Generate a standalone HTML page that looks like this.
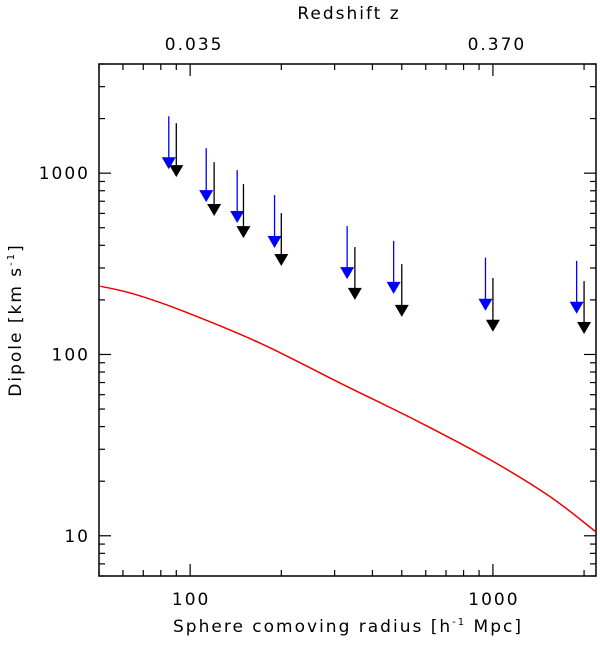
<!DOCTYPE html>
<html><head><meta charset="utf-8"><style>
body{margin:0;background:#fff}
svg text{font-family:"DejaVu Sans","Liberation Sans",sans-serif;font-size:17px;fill:#000;letter-spacing:2px}
</style></head><body>
<svg id="chart" width="600" height="640" xmlns="http://www.w3.org/2000/svg"></svg>
<script>
const blueX=[85,113,143,190,330,470,945,1890];
const blueY=[1135,747,573,417,281,233,188,181];
const blueTop=[2060,1373,1039,757,511,423,342,328];
const blackX=[90,120,150,200,350,500,1000,2000];
const blackY=[1026,626,473,332,216,174,144,140];
const blackTop=[1886,1150,870,602,391,315,264,254];
const redX=[50.5,64.9,92.7,170,312,574,978,1540,2190];
const redY=[238,216,176,115.6,69.7,42.2,26.3,16.5,10.5];
const xTickLabels=["100","1000"];
const yTickLabels=["10","100","1000"];
const zLabels=["0.035","0.370"];

const L=99,R=596,T=64,B=576;
const X0=Math.log10(50),X1=Math.log10(2190),Y0=Math.log10(6),Y1=Math.log10(4000);
const sx=v=>L+(Math.log10(v)-X0)/(X1-X0)*(R-L);
const sy=v=>B-(Math.log10(v)-Y0)/(Y1-Y0)*(B-T);
const svg=document.getElementById('chart');
const NS='http://www.w3.org/2000/svg';
function mk(tag,attrs,parent){const e=document.createElementNS(NS,tag);for(const k in attrs)e.setAttribute(k,attrs[k]);(parent||svg).appendChild(e);return e;}

const frame=mk('rect',{x:L,y:T,width:R-L,height:B-T,fill:'none',stroke:'#000','stroke-width':1.5});



const gx=mk('g',{stroke:'#000','stroke-width':1.2});


for(let d=10;d<=1000;d*=10)for(let m=1;m<10;m++){const v=d*m;if(v<50||v>2190)continue;const x=sx(v);const len=m===1?12:6;
 mk('line',{x1:x,y1:B,x2:x,y2:B-len},gx);mk('line',{x1:x,y1:T,x2:x,y2:T+len},gx);}
xTickLabels.forEach(s=>{const t=mk('text',{x:sx(+s)+1,y:605,'text-anchor':'middle'});t.textContent=s;
 
 });
const gy=mk('g',{stroke:'#000','stroke-width':1.2});


for(let d=1;d<=1000;d*=10)for(let m=1;m<10;m++){const v=d*m;if(v<6||v>4000)continue;const y=sy(v);const len=m===1?12:6;
 mk('line',{x1:L,y1:y,x2:L+len,y2:y},gy);mk('line',{x1:R,y1:y,x2:R-len,y2:y},gy);}
yTickLabels.forEach(s=>{const t=mk('text',{x:90,y:sy(+s)+6,'text-anchor':'end'});t.textContent=s;
 
 });
zLabels.forEach((s,i)=>{const t=mk('text',{x:sx(+xTickLabels[i])+4,y:50,'text-anchor':'middle'});t.textContent=s;
 
 });

let t=mk('text',{x:349,y:19,'text-anchor':'middle'});t.textContent='Redshift z';


t=mk('text',{x:348,y:632,'text-anchor':'middle'});t.innerHTML='Sphere comoving radius [h<tspan dy="-7" font-size="10">-1</tspan><tspan dy="7"> Mpc]</tspan>';


t=mk('text',{x:0,y:0,'text-anchor':'middle',transform:'translate(21,320) rotate(-90)'});t.innerHTML='Dipole [km s<tspan dy="-7" font-size="10">-1</tspan><tspan dy="7">]</tspan>';



const pts=redX.map((v,i)=>[sx(v),sy(redY[i])]);
let d='M'+pts[0][0]+','+pts[0][1];
for(let i=0;i<pts.length-1;i++){const p0=pts[i-1]||pts[i],p1=pts[i],p2=pts[i+1],p3=pts[i+2]||p2;
 d+=` C${p1[0]+(p2[0]-p0[0])/6},${p1[1]+(p2[1]-p0[1])/6} ${p2[0]-(p3[0]-p1[0])/6},${p2[1]-(p3[1]-p1[1])/6} ${p2[0]},${p2[1]}`;}
const red=mk('path',{d:d,fill:'none',stroke:'#e00','stroke-width':1.5});



function arrows(xs,ys,tops,color,name){
 const g=mk('g',{});
 
 
 xs.forEach((v,i)=>{const x=sx(v),y=sy(ys[i]);
  mk('line',{x1:x,y1:sy(tops[i]),x2:x,y2:y,stroke:color,'stroke-width':1.3},g);
  const p=mk('polygon',{points:`${x-7},${y-6} ${x+7},${y-6} ${x},${y+6}`,fill:color},g);
  
  
 });
}
arrows(blueX,blueY,blueTop,'#0000ff','blue-upper-limits');
arrows(blackX,blackY,blackTop,'#000','black-upper-limits');
</script>
</body></html>
